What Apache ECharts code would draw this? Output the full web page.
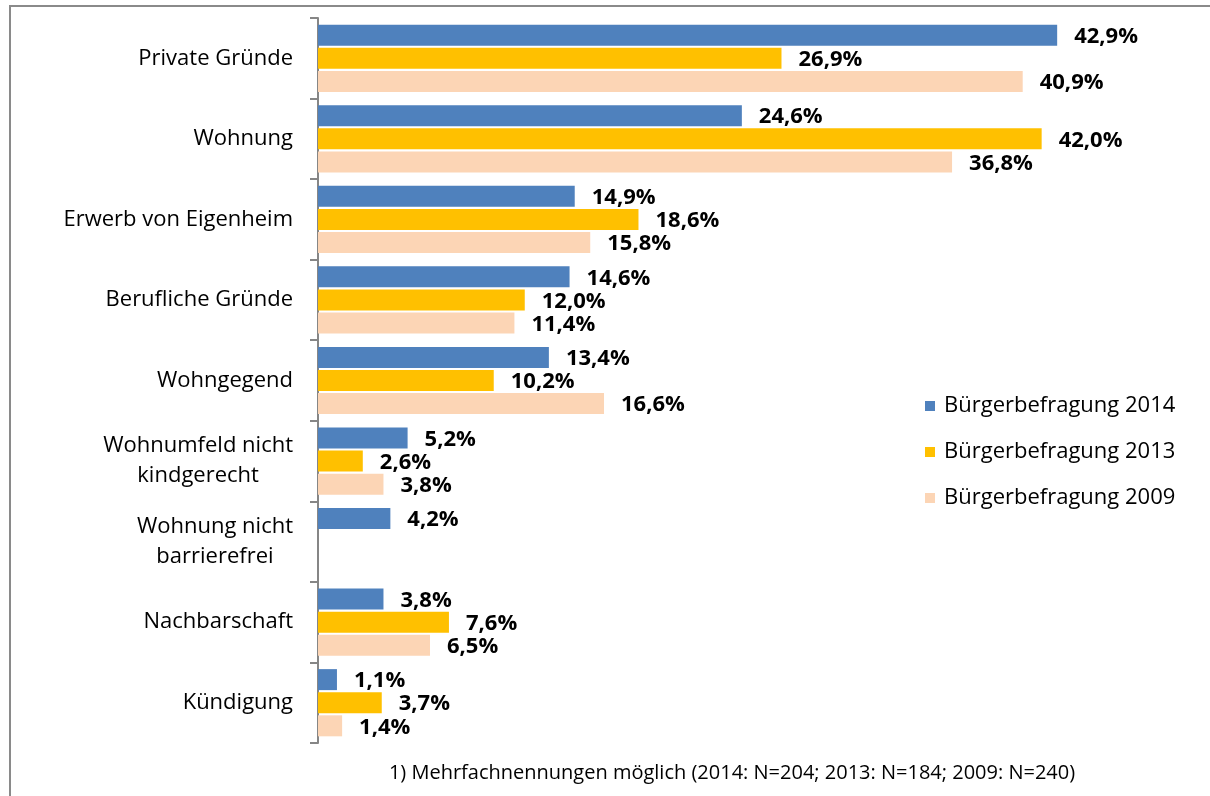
<!DOCTYPE html>
<html>
<head>
<meta charset="utf-8">
<script src="https://cdn.jsdelivr.net/npm/echarts@6/dist/echarts.min.js"></script>
<style>
  html, body { margin: 0; padding: 0; background: #fff; }
  #main { width: 1210px; height: 796px; }
</style>
</head>
<body>
<div id="main"></div>
<script>
// Kategorien (von oben nach unten)
var categories = ['Private Gründe', 'Wohnung', 'Erwerb von Eigenheim', 'Berufliche Gründe', 'Wohngegend',
  'Wohnumfeld nicht\nkindgerecht', 'Wohnung nicht\nbarrierefrei', 'Nachbarschaft', 'Kündigung'];
var seriesNames = ['Bürgerbefragung 2014', 'Bürgerbefragung 2013', 'Bürgerbefragung 2009'];
var values2014 = [42.9, 24.6, 14.9, 14.6, 13.4, 5.2, 4.2, 3.8, 1.1];
var values2013 = [26.9, 42.0, 18.6, 12.0, 10.2, 2.6, null, 7.6, 3.7];
var values2009 = [40.9, 36.8, 15.8, 11.4, 16.6, 3.8, null, 6.5, 1.4];
var footnote = '1) Mehrfachnennungen möglich (2014: N=204; 2013: N=184; 2009: N=240)';

var colors = ['#4F81BD', '#FFC000', '#FCD5B5'];
var font = '"Open Sans", sans-serif';

var chart = echarts.init(document.getElementById('main'));

function makeSeries(name, data, color) {
  return {
    name: name,
    type: 'bar',
    data: data,
    barWidth: 21,
    barGap: '10%',
    itemStyle: { color: color },
    label: {
      show: true,
      position: 'right',
      distance: 17,
      offset: [0, 1.5],
      color: '#000',
      fontFamily: font,
      fontWeight: 'bold',
      fontSize: 22,
      formatter: function (p) {
        return p.value == null ? '' : p.value.toFixed(1).replace('.', ',') + '%';
      }
    }
  };
}

chart.setOption({
  animation: false,
  color: colors,
  grid: { left: 318, top: 18, width: 861.5, height: 725 },
  legend: {
    orient: 'vertical',
    left: 920,
    top: 390,
    itemWidth: 10,
    itemHeight: 10,
    itemGap: 24,
    icon: 'rect',
    textStyle: { fontFamily: font, fontSize: 22, lineHeight: 22, color: '#000', padding: [0, 0, 0, 4] },
    data: seriesNames
  },
  xAxis: { type: 'value', min: 0, max: 50, show: false },
  yAxis: {
    type: 'category',
    inverse: true,
    data: categories,
    axisLine: { lineStyle: { color: '#868686', width: 2 } },
    axisTick: { show: true, length: 8, lineStyle: { color: '#868686', width: 2 } },
    axisLabel: {
      margin: 25,
      color: '#000',
      formatter: function (v) {
        return v.split('\n').map(function (l) { return '{c|' + l + '}'; }).join('\n');
      },
      rich: { c: { align: 'center', fontFamily: font, fontSize: 22, lineHeight: 30, color: '#000' } }
    }
  },
  graphic: [
    { type: 'rect', shape: { x: 10, y: 6, width: 1240, height: 820 },
      style: { fill: 'none', stroke: '#8a8a8a', lineWidth: 2 } },
    { type: 'text', x: 732, y: 773,
      style: { text: footnote, fontFamily: font, fontSize: 20, fill: '#000', align: 'center', verticalAlign: 'middle' } }
  ],
  series: [
    makeSeries(seriesNames[0], values2014, colors[0]),
    makeSeries(seriesNames[1], values2013, colors[1]),
    makeSeries(seriesNames[2], values2009, colors[2])
  ]
});
</script>
</body>
</html>
